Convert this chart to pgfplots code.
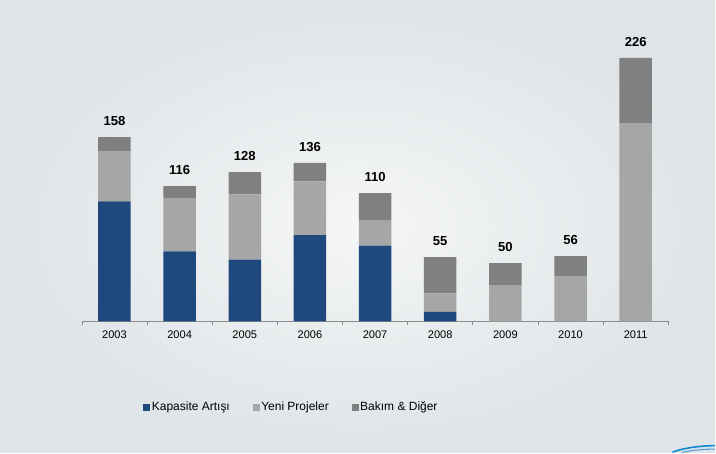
\documentclass[border=0pt]{standalone}
\usepackage{pgfplots}
\pgfplotsset{compat=1.18}
\usepackage{fontspec}
\setmainfont{Liberation Sans}

\definecolor{kapasite}{HTML}{1F487C}
\definecolor{yeni}{HTML}{A6A6A6}
\definecolor{bakim}{HTML}{808080}
\definecolor{bgout}{HTML}{DEE4E7}
\definecolor{bgin}{HTML}{F5F6F6}
\definecolor{axisgray}{HTML}{8C8C8C}

\pgfplotsset{
    frame/.style={
        at={(61.5pt,98.5pt)}, anchor=south west,
        scale only axis,
        width=440.25pt, height=227.5pt,
        xmin=-0.5, xmax=8.5,
        ymin=0, ymax=260,
        clip=false,
        /pgf/number format/assume math mode=true,
    },
}

\begin{document}
\begin{tikzpicture}
% background, 716 x 453 px at 0.75pt per px
\shade[inner color=bgin, outer color=bgout] (0,0) rectangle (537pt,339.75pt);
\draw[color=cyan!70!blue, line width=1.2pt] (505pt,0.3pt) .. controls (515pt,4pt) and (528pt,5pt) .. (537pt,5.2pt);
\draw[color=cyan!60!blue!70, line width=0.8pt] (512pt,0pt) .. controls (520pt,2pt) and (530pt,2.5pt) .. (537pt,2.6pt);

\begin{axis}[
    frame,
    ybar stacked,
    bar width=24.4pt,
    axis x line=bottom,
    axis y line=none,
    x axis line style={-, draw=axisgray, line width=0.6pt},
    xtick={0,...,8},
    xticklabels={2003,2004,2005,2006,2007,2008,2009,2010,2011},
    major tick length=0pt,
    minor xtick={-0.5,0.5,...,8.5},
    minor tick length=3pt,
    tick align=outside,
    xtick style={draw=axisgray, line width=0.6pt},
    tick label style={font=\fontsize{8.3}{9}\selectfont},
    xticklabel style={yshift=-3.5pt},
    legend columns=3,
    legend style={
        at={(0.357,-0.2846)}, anchor=center,
        draw=none, fill=none,
        font=\fontsize{9}{10}\selectfont,
        /tikz/every even column/.append style={column sep=16pt},
        nodes={inner sep=1.2pt},
    },
    legend image code/.code={\fill[#1] (0pt,-2.6pt) rectangle (5.2pt,2.6pt);},
]
\addplot[fill=kapasite, draw=none] coordinates {
    (0,103) (1,60) (2,53) (3,74) (4,65) (5,8) (6,0) (7,0) (8,0)
};
\addlegendentry{Kapasite Artışı}
\addplot[fill=yeni, draw=none] coordinates {
    (0,43) (1,46) (2,56) (3,46) (4,22) (5,16) (6,31) (7,39) (8,170)
};
\addlegendentry{Yeni Projeler}
\addplot[fill=bakim, draw=none] coordinates {
    (0,12) (1,10) (2,19) (3,16) (4,23) (5,31) (6,19) (7,17) (8,56)
};
\addlegendentry{Bakım \& Diğer}
\end{axis}

% totals on top of each stack
\begin{axis}[frame, hide axis]
\addplot[draw=none, mark=none,
    nodes near coords, point meta=y,
    every node near coord/.append style={font=\fontsize{9.8}{11}\selectfont\bfseries,
        text=black, anchor=south, yshift=5pt}]
    coordinates {
    (0,158) (1,116) (2,128) (3,136) (4,110) (5,55) (6,50) (7,56) (8,226)
};
\end{axis}
\end{tikzpicture}
\end{document}
